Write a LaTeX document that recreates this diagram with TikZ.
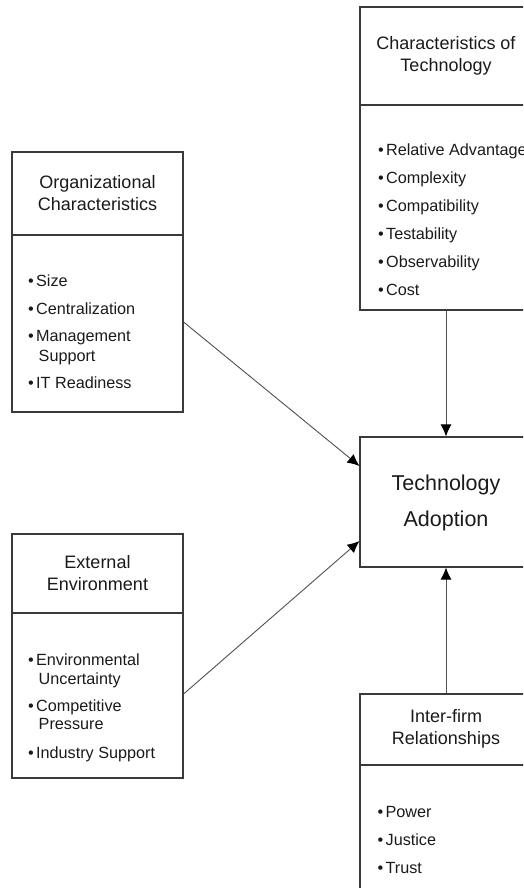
\documentclass[tikz,border=0pt]{standalone}
\usepackage{fontspec}
\setmainfont{Liberation Sans}
\usetikzlibrary{arrows.meta}
\definecolor{ink}{HTML}{3A3A3A}
\definecolor{wire}{HTML}{505050}
\definecolor{txt}{HTML}{1A1A1A}
\begin{document}
\begin{tikzpicture}[x=1pt,y=-1pt,
  panel/.style={draw=ink,line width=1.1pt,inner sep=0pt,rectangle},
  rule/.style={draw=ink,line width=1.1pt},
  title/.style={font=\fontsize{18}{22}\selectfont,text=txt,align=center,inner sep=0pt},
  core/.style={font=\fontsize{21.5}{36}\selectfont,text=txt,align=center,inner sep=0pt},
  item/.style={font=\fontsize{16.2}{19}\selectfont,text=txt,anchor=base west,inner sep=0pt},
  link/.style={draw=wire,line width=0.9pt,-{Latex[length=12pt,width=11pt,color=black]}}]
\useasboundingbox (0,0) rectangle (523,888);
\clip (0,0) rectangle (523,888);

% panels
\node[panel,minimum width=172pt,minimum height=303pt] (tech) at (446,158.5) {};
\node[panel,minimum width=171pt,minimum height=260pt] (org) at (97.5,282) {};
\node[panel,minimum width=171pt,minimum height=244pt] (ext) at (97.5,656) {};
\node[panel,minimum width=172pt,minimum height=130pt] (adopt) at (446,502) {};
\node[panel,minimum width=172pt,minimum height=300pt] (rel) at (446,844) {};

% header dividers
\draw[rule] (tech.west |- 0,105) -- (tech.east |- 0,105);
\draw[rule] (org.west |- 0,235) -- (org.east |- 0,235);
\draw[rule] (ext.west |- 0,613) -- (ext.east |- 0,613);
\draw[rule] (rel.west |- 0,765) -- (rel.east |- 0,765);

% headers
\node[title] (techT) at (446,56) {Characteristics of\\Technology};
\node[title] (orgT) at (97.5,193.5) {Organizational\\Characteristics};
\node[title] (extT) at (97.5,573) {External\\Environment};
\node[title] (relT) at (446,729) {Inter-firm\\Relationships};
\node[core] (adoptT) at (446,503) {Technology\\Adoption};

% bullet lists
\foreach \t [count=\i] in {Relative Advantage,Complexity,Compatibility,Testability,Observability,Cost}
  \node[item] (techI\i) at (378,{127+28*\i}) {•\hspace{2.3pt}\t};

\node[item] (orgI1) at (28,286.5) {•\hspace{2.3pt}Size};
\node[item] (orgI2) at (28,314.5) {•\hspace{2.3pt}Centralization};
\node[item] (orgI3) at (28,341.5) {•\hspace{2.3pt}Management};
\node[item] (orgI3b) at (38.5,361) {Support};
\node[item] (orgI4) at (28,388.5) {•\hspace{2.3pt}IT Readiness};

\node[item] (extI1) at (28,665.5) {•\hspace{2.3pt}Environmental};
\node[item] (extI1b) at (38.5,684) {Uncertainty};
\node[item] (extI2) at (28,711) {•\hspace{2.3pt}Competitive};
\node[item] (extI2b) at (38.5,729.5) {Pressure};
\node[item] (extI3) at (28,758) {•\hspace{2.3pt}Industry Support};

\foreach \t [count=\i] in {Power,Justice,Trust}
  \node[item] (relI\i) at (377.5,{789+28*\i}) {•\hspace{2.3pt}\t};

% influences on adoption
\draw[link] (tech.south) -- (adopt.north);
\draw[link] (rel.north) -- (adopt.south);
\draw[link] ([yshift=-40pt]org.east) -- ([yshift=36pt]adopt.west);
\draw[link] ([yshift=-38pt]ext.east) -- ([yshift=-39pt]adopt.west);
\end{tikzpicture}
\end{document}
